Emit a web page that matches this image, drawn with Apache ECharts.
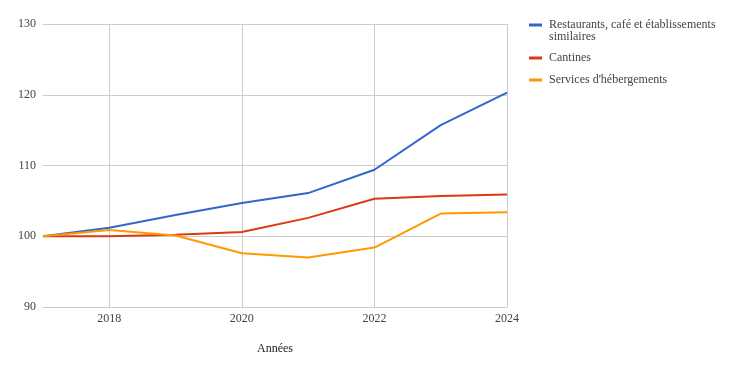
<!DOCTYPE html>
<html>
<head>
<meta charset="utf-8">
<script src="https://cdn.jsdelivr.net/npm/echarts@6/dist/echarts.min.js"></script>
<style>
html,body{margin:0;padding:0;background:#fff;}
#c{width:735px;height:374px;}
</style>
</head>
<body>
<div id="c"></div>
<script>
const years = ['2017','2018','2019','2020','2021','2022','2023','2024'];
const seriesNames = ['Restaurants, café et établissements similaires', 'Cantines', "Services d'hébergements"];
const restaurants = [100, 101.2, 103.0, 104.7, 106.1, 109.4, 115.7, 120.3];
const cantines = [100, 100.0, 100.2, 100.6, 102.6, 105.3, 105.7, 105.9];
const hebergements = [100, 100.9, 100.1, 97.6, 97.0, 98.4, 103.2, 103.4];
const yTicks = [90, 100, 110, 120, 130];
const xLabelYears = ['2018','2020','2022','2024'];

const colors = ['#3366cc', '#dc3912', '#ff9900'];
const font = '"Liberation Serif", "DejaVu Serif", serif';
const chart = echarts.init(document.getElementById('c'), null, {renderer: 'canvas'});
const showIdx = (i, v) => xLabelYears.indexOf(String(v)) >= 0;

function legendFor(i, top, label) {
  return {
    orient: 'vertical', left: 529, top: top, padding: 0,
    data: [seriesNames[i]],
    icon: 'rect', itemWidth: 13, itemHeight: 3,
    itemGap: 0, selectedMode: false,
    formatter: () => label,
    textStyle: {fontFamily: font, fontSize: 12, color: '#444', padding: [0, 0, 0, 2]}
  };
}

chart.setOption({
  animation: false,
  color: colors,
  textStyle: {fontFamily: font},
  grid: {left: 43, right: 228, top: 24, bottom: 67, containLabel: false},
  legend: [
    legendFor(0, 19, 'Restaurants, café et établissements'),
    legendFor(1, 52, 'Cantines'),
    legendFor(2, 74, "Services d'hébergements")
  ],
  graphic: [{
    type: 'text', left: 549, top: 31,
    style: {text: 'similaires', font: '12px ' + font, fill: '#444'}
  }],
  xAxis: {
    type: 'category', data: years, boundaryGap: false,
    name: 'Années', nameLocation: 'middle', nameGap: 36,
    nameTextStyle: {fontFamily: font, fontSize: 12, color: '#222'},
    axisLine: {show: true, lineStyle: {color: '#cccccc'}},
    axisTick: {show: false},
    axisLabel: {interval: showIdx, fontFamily: font, fontSize: 12, color: '#444', margin: 6},
    splitLine: {show: true, interval: showIdx, lineStyle: {color: '#cccccc', width: 1}}
  },
  yAxis: {
    type: 'value', min: yTicks[0], max: yTicks[yTicks.length - 1], interval: 10,
    axisLine: {show: false}, axisTick: {show: false},
    axisLabel: {fontFamily: font, fontSize: 12, color: '#444', margin: 7},
    splitLine: {show: true, lineStyle: {color: '#cccccc', width: 1}}
  },
  series: [
    {name: seriesNames[0], type: 'line', data: restaurants, showSymbol: false, lineStyle: {width: 2}},
    {name: seriesNames[1], type: 'line', data: cantines, showSymbol: false, lineStyle: {width: 2}},
    {name: seriesNames[2], type: 'line', data: hebergements, showSymbol: false, lineStyle: {width: 2}}
  ]
});
</script>
</body>
</html>
